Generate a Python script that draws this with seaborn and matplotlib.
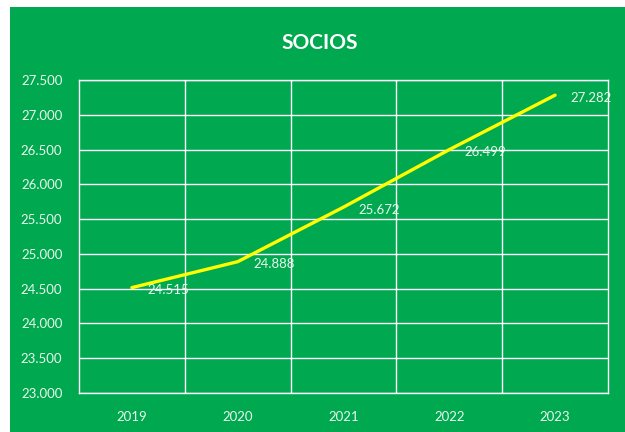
import matplotlib
matplotlib.use("Agg")
import matplotlib.pyplot as plt
import seaborn as sns
import pandas as pd
from matplotlib.patches import Rectangle
from matplotlib.ticker import FuncFormatter, MultipleLocator

years = ["2019", "2020", "2021", "2022", "2023"]
socios = [24515, 24888, 25672, 26499, 27282]
title = "SOCIOS"

sns.set_theme(style="white")
plt.rcParams['font.family'] = ['Lato', 'DejaVu Sans']

GREEN = "#00A94F"
TXT = "#EAF6EE"

df = pd.DataFrame({"year": years, "socios": socios})
df["x"] = range(len(years))

fig = plt.figure(figsize=(6.25, 4.32), dpi=100, facecolor="white")
bg = Rectangle((10/625, 0), 1 - 10/625, 1 - 7/432, transform=fig.transFigure,
               facecolor=GREEN, edgecolor="none", zorder=-10)
fig.add_artist(bg)
ax = fig.add_axes([79/625, 1 - 393/432, (608 - 79)/625, (393 - 80)/432])
ax.set_facecolor(GREEN)

sns.lineplot(data=df, x="x", y="socios", ax=ax, color="#FFFF00", linewidth=2.4, zorder=3)

for xi, v in zip(df["x"], df["socios"]):
    ax.annotate(f"{v:,}".replace(",", "."), (xi, v), xytext=(11, -2), textcoords="offset points",
                ha="left", va="center", color=TXT, fontsize=9.5, zorder=4)

ax.set_xlim(-0.5, len(years) - 0.5)
ax.set_ylim(23000, 27500)
ax.yaxis.set_major_locator(MultipleLocator(500))
ax.yaxis.set_major_formatter(FuncFormatter(lambda v, p: f"{int(v):,}".replace(",", ".")))
ax.set_xticks(range(len(years)))
ax.set_xticklabels(years)
ax.set_xticks([i + 0.5 for i in range(len(years) - 1)], minor=True)

ax.grid(True, which="major", axis="y", color="white", linewidth=1)
ax.grid(True, which="minor", axis="x", color="white", linewidth=1)
ax.tick_params(axis="both", which="both", length=0, colors=TXT, labelsize=9.5)
ax.tick_params(axis="x", pad=13)
ax.tick_params(axis="y", pad=12)
for s in ax.spines.values():
    s.set_visible(True)
    s.set_color("white")
    s.set_linewidth(1)
ax.set_xlabel("")
ax.set_ylabel("")

fig.text(320/625, 1 - 43/432, title, ha="center", va="center",
         color="white", fontsize=15, fontweight="bold")

fig.savefig("out.png", dpi=100, facecolor="white")
